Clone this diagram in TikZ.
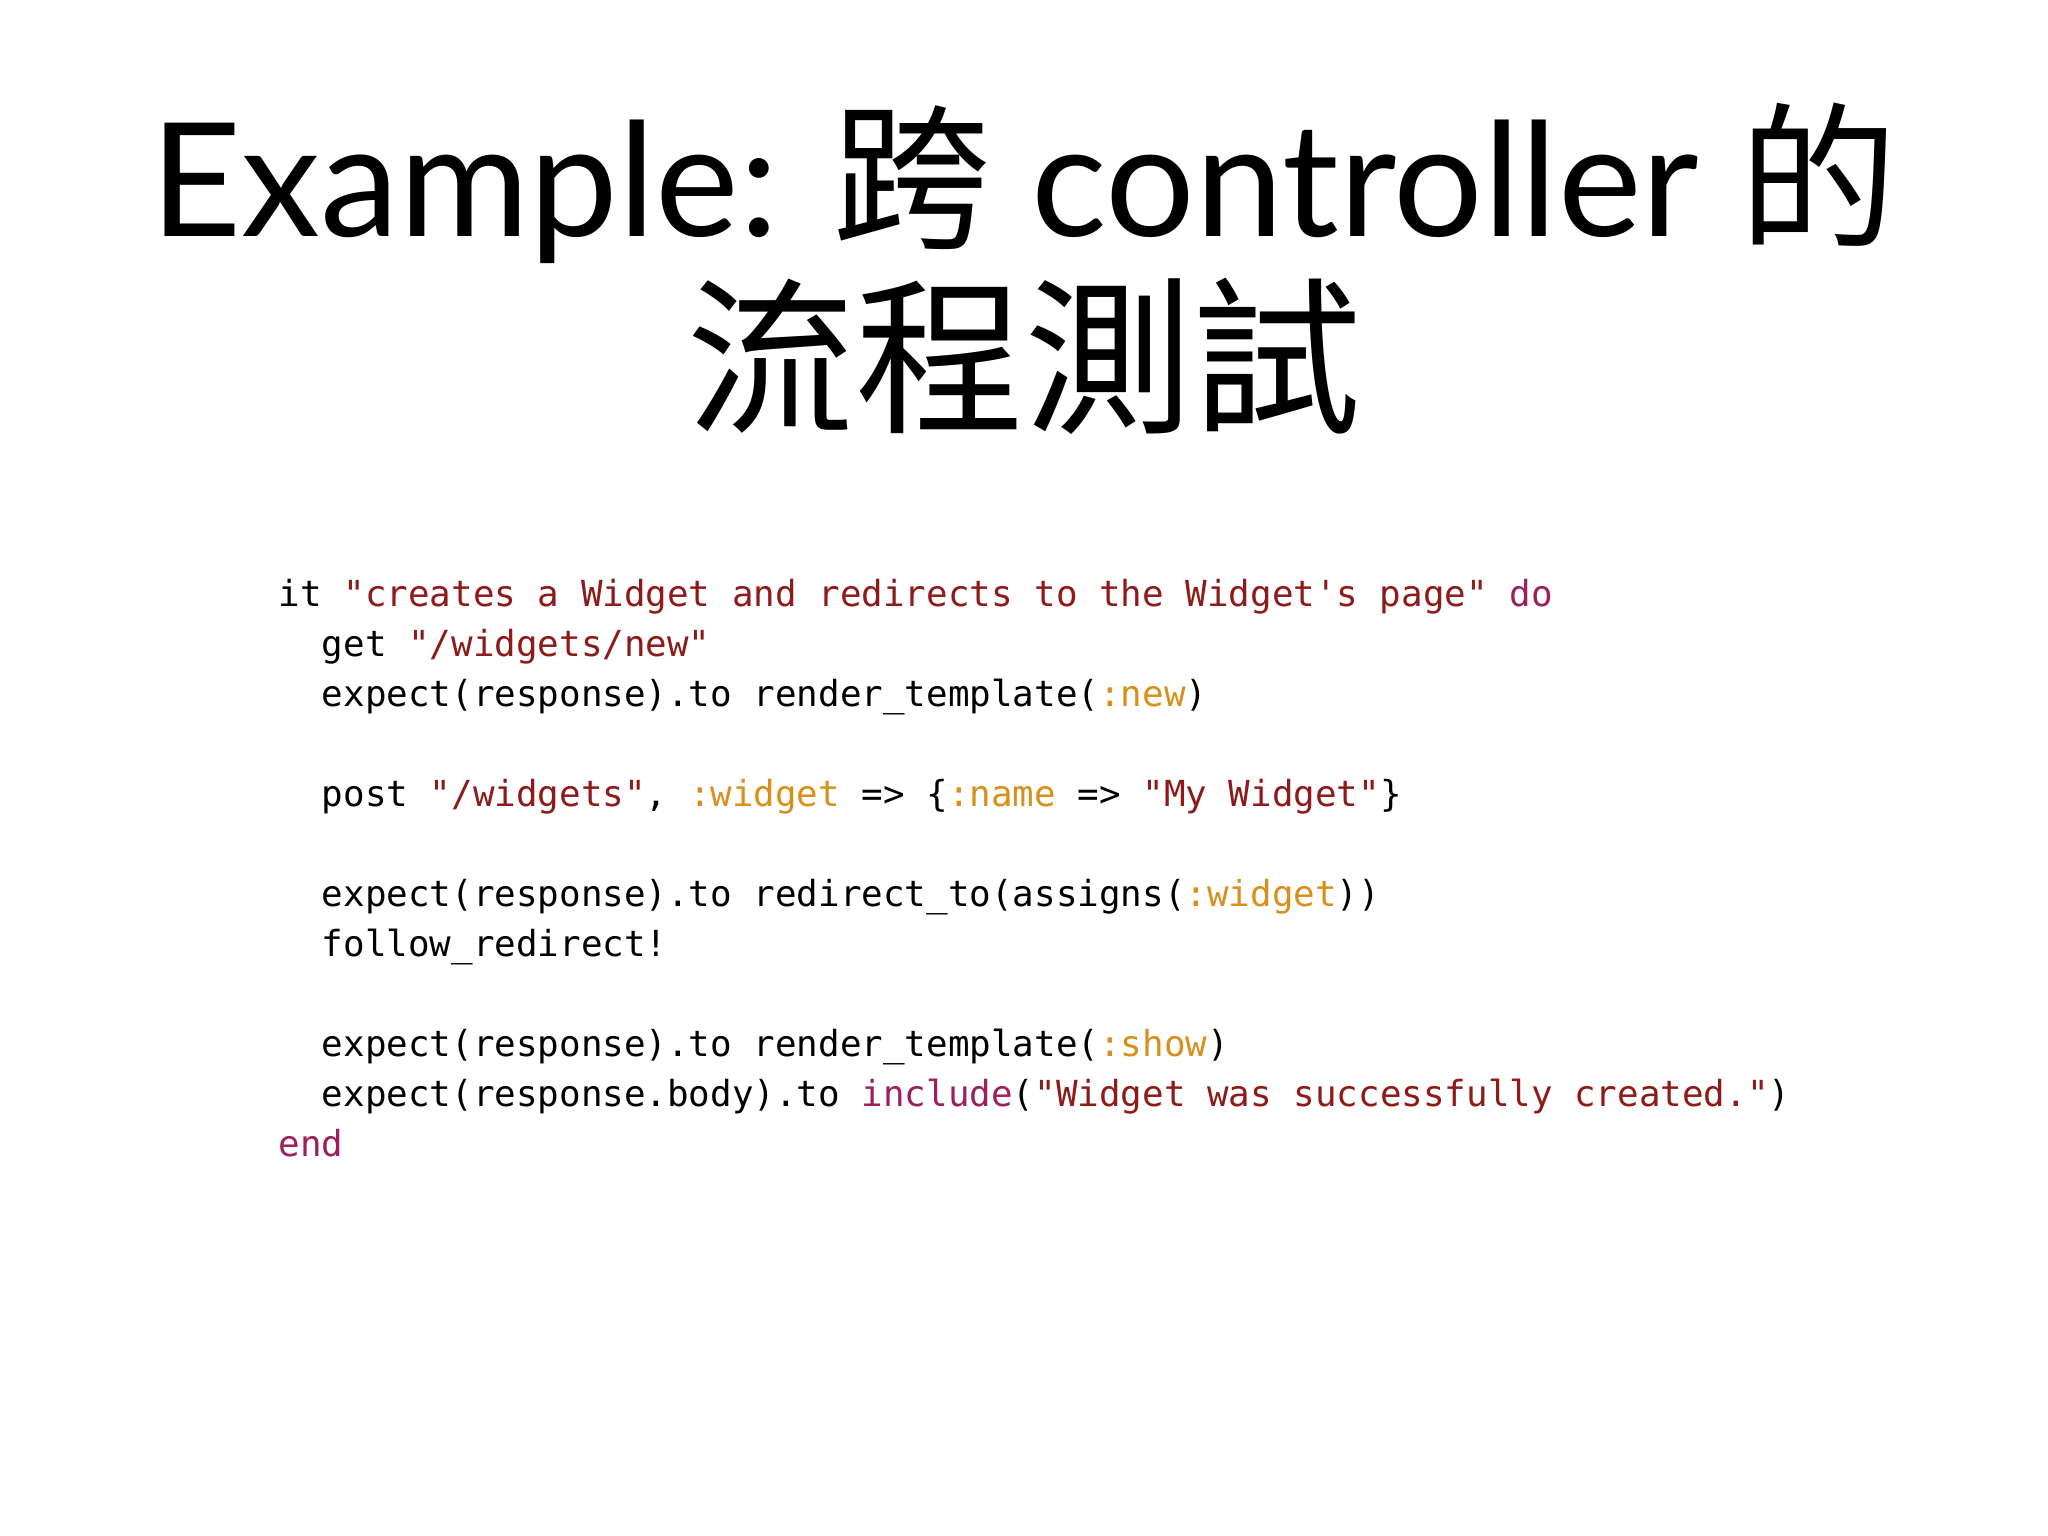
\documentclass[tikz,border=0pt]{standalone}
\usepackage{fontspec}
\setmainfont{Lato}
\setmonofont{DejaVu Sans Mono}
\newfontfamily\cjk{Noto Sans CJK TC}
\definecolor{str}{HTML}{8E1A1A}
\definecolor{sym}{HTML}{D8901C}
\definecolor{kw}{HTML}{9C2060}
\newcommand\cStr[1]{\textcolor{str}{#1}}
\newcommand\cSym[1]{\textcolor{sym}{#1}}
\newcommand\cKw[1]{\textcolor{kw}{#1}}
\begin{document}
\begin{tikzpicture}[x=0.01cm,y=-0.01cm,
  code/.style={anchor=base west,inner sep=0,font=\ttfamily\fontsize{10.2pt}{12pt}\selectfont}]
\useasboundingbox[fill=white] (0,0) rectangle (2048,1536);
\node[font=\fontsize{45pt}{56pt}\selectfont,anchor=base,inner sep=0] (t1) at (1024,236)
  {Example: {\cjk 跨} controller {\cjk 的}};
\node[font=\cjk\fontsize{48pt}{56pt}\selectfont,anchor=base,inner sep=0] (t2) at (1024,420) {流程測試};
\node[code] (l1) at (278,606) {it \cStr{"creates a Widget and redirects to the Widget's page"} \cKw{do}};
\node[code] (l2) at (278,656) {\ \ get \cStr{"/widgets/new"}};
\node[code] (l3) at (278,706) {\ \ expect(response).to render\_template(\cSym{:new})};
\node[code] (l4) at (278,806) {\ \ post \cStr{"/widgets"}, \cSym{:widget} => \{\cSym{:name} => \cStr{"My Widget"}\}};
\node[code] (l5) at (278,906) {\ \ expect(response).to redirect\_to(assigns(\cSym{:widget}))};
\node[code] (l6) at (278,956) {\ \ follow\_redirect!};
\node[code] (l7) at (278,1056) {\ \ expect(response).to render\_template(\cSym{:show})};
\node[code] (l8) at (278,1106) {\ \ expect(response.body).to \cKw{include}(\cStr{"Widget was successfully created."})};
\node[code] (l9) at (278,1156) {\cKw{end}};
\end{tikzpicture}
\end{document}
